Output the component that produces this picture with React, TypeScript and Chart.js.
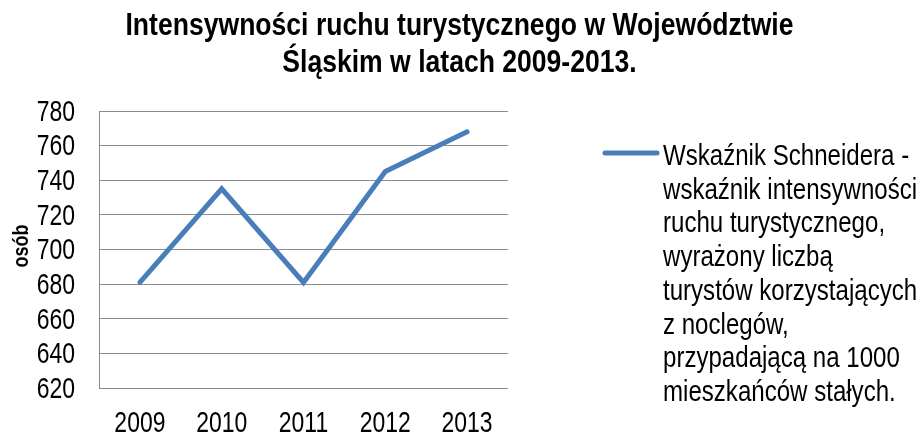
import React, { useEffect, useRef } from "react";
import { Chart, registerables } from "chart.js";

Chart.register(...registerables);

const categories = ["2009", "2010", "2011", "2012", "2013"];
const schneiderValues = [681, 735, 681, 745, 768];
const titleLines = ["Intensywności ruchu turystycznego w Województwie", "Śląskim w latach 2009-2013."];
const yAxisTitle = "osób";
const legendLines = [
  "Wskaźnik Schneidera -",
  "wskaźnik intensywności",
  "ruchu turystycznego,",
  "wyrażony liczbą",
  "turystów korzystających",
  "z noclegów,",
  "przypadającą na 1000",
  "mieszkańców stałych.",
];
const yMin = 620;
const yMax = 780;
const yStep = 20;

const FONT = "'Liberation Sans', Arial, sans-serif";
const LINE_COLOR = "#4A7EBB";
const GRID_COLOR = "#8C8C8C";

function narrowText(
  ctx: CanvasRenderingContext2D,
  text: string,
  x: number,
  y: number,
  align: CanvasTextAlign,
  sx: number
) {
  ctx.save();
  ctx.translate(x, y);
  ctx.scale(sx, 1);
  ctx.textAlign = align;
  ctx.fillText(text, 0, 0);
  ctx.restore();
}

const decorPlugin = {
  id: "decor",
  afterDraw(chart: any) {
    const ctx = chart.ctx as CanvasRenderingContext2D;
    const W = chart.width;
    const area = chart.chartArea;
    ctx.save();
    ctx.fillStyle = "#000";
    ctx.textBaseline = "middle";

    // title
    ctx.font = `bold 32px ${FONT}`;
    narrowText(ctx, titleLines[0], W / 2, 26, "center", 0.83);
    narrowText(ctx, titleLines[1], W / 2, 63, "center", 0.83);

    // tick labels (values from the chart's own scales)
    ctx.font = `30px ${FONT}`;
    const ys = chart.scales.y;
    ys.ticks.forEach((t: any, i: number) => {
      const py = ys.getPixelForTick(i);
      narrowText(ctx, String(t.value), ys.right - 24, py + 1.5, "right", 0.765);
    });
    const xs = chart.scales.x;
    xs.ticks.forEach((t: any, i: number) => {
      const px = xs.getPixelForTick(i);
      const lbl = categories[t.value] ?? String(t.label);
      narrowText(ctx, lbl, px, area.bottom + 36, "center", 0.765);
    });

    // y axis title
    ctx.save();
    ctx.translate(22, 246);
    ctx.rotate(-Math.PI / 2);
    ctx.scale(0.82, 1);
    ctx.font = `bold 22px ${FONT}`;
    ctx.textAlign = "center";
    ctx.fillText(yAxisTitle, 0, 0);
    ctx.restore();

    // legend
    ctx.strokeStyle = LINE_COLOR;
    ctx.lineWidth = 5;
    ctx.lineCap = "round";
    ctx.beginPath();
    ctx.moveTo(605, 153);
    ctx.lineTo(657, 153);
    ctx.stroke();
    ctx.font = `29px ${FONT}`;
    legendLines.forEach((l, i) => {
      narrowText(ctx, l, 663, 157 + i * 33.7, "left", 0.83);
    });
    ctx.restore();
  },
};

export default function App() {
  const ref = useRef<HTMLCanvasElement | null>(null);
  useEffect(() => {
    if (!ref.current) return;
    const chart = new Chart(ref.current, {
      type: "line",
      data: {
        labels: categories,
        datasets: [
          {
            label: legendLines.join(" "),
            data: schneiderValues,
            borderColor: LINE_COLOR,
            backgroundColor: LINE_COLOR,
            borderWidth: 5,
            borderCapStyle: "round",
            pointRadius: 0,
            tension: 0,
          },
        ],
      },
      options: {
        responsive: false,
        animation: false,
        layout: { padding: { top: 111, left: 0, right: 411, bottom: 0 } },
        plugins: {
          legend: { display: false },
          title: { display: false },
          tooltip: { enabled: false },
        },
        scales: {
          x: {
            offset: true,
            grid: { display: false, drawTicks: false },
            border: { display: false },
            ticks: { display: false },
            afterFit: (s: any) => {
              s.height = 49;
            },
          },
          y: {
            min: yMin,
            max: yMax,
            grid: { color: GRID_COLOR, lineWidth: 1, drawTicks: false },
            border: { display: true, color: GRID_COLOR, width: 1 },
            ticks: { stepSize: yStep, display: false },
            afterFit: (s: any) => {
              s.width = 99;
            },
          },
        },
      },
      plugins: [decorPlugin],
    } as any);
    return () => chart.destroy();
  }, []);
  return (
    <div style={{ position: "absolute", left: 0, top: 0, width: 919, height: 437, background: "#fff" }}>
      <canvas ref={ref} width={919} height={437} style={{ display: "block" }} />
    </div>
  );
}
